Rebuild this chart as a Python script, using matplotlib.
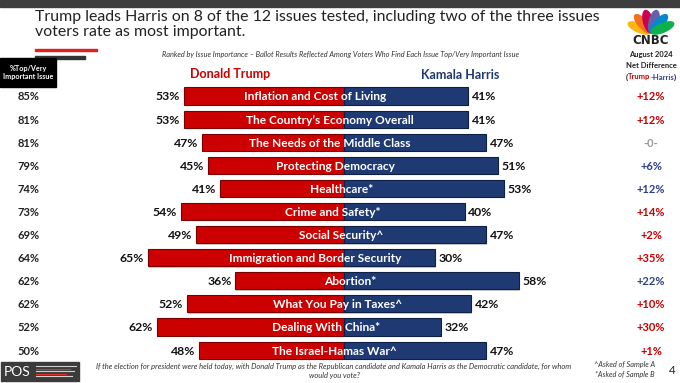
import matplotlib
matplotlib.use("Agg")
import matplotlib.pyplot as plt
from matplotlib.patches import Ellipse, Rectangle
import numpy as np

plt.rcParams['font.family'] = ['Lato', 'DejaVu Sans']

issues = ["Inflation and Cost of Living", "The Country\u2019s Economy Overall",
          "The Needs of the Middle Class", "Protecting Democracy", "Healthcare*",
          "Crime and Safety*", "Social Security^", "Immigration and Border Security",
          "Abortion*", "What You Pay in Taxes^", "Dealing With China*",
          "The Israel-Hamas War^"]
importance = [85, 81, 81, 79, 74, 73, 69, 64, 62, 62, 52, 50]
trump = [53, 53, 47, 45, 41, 54, 49, 65, 36, 52, 62, 48]
harris = [41, 41, 47, 51, 53, 40, 47, 30, 58, 42, 32, 47]

# where each issue name sits inside its bar (percent from the centre line)
label_shift = [-9.6, -4.8, -4.6, -3.0, -0.8, -3.7, -1.0, -9.4, 1.9, -2.0, -6.1, -3.3]

RED = "#cc0000"
NAVY = "#1f3a73"
BLUE_TXT = "#2e3f8f"
W, H = 680, 383

fig = plt.figure(figsize=(6.8, 3.83), dpi=100)

def fx(px):
    return px / W

def fy(py):
    return 1 - py / H

# main axes covers whole figure; x in percent, y in rows
ax = fig.add_axes([0, 0, 1, 1])
scale = 3.02  # px per percent
cx = 344
y0, dy = 96, 23.1
ax.set_xlim(-cx / scale, (W - cx) / scale)
ax.set_ylim((H - y0) / dy, -y0 / dy)
ax.axis("off")

rows = np.arange(len(issues))
t = np.array(trump)
h = np.array(harris)
bh = 0.74

# shadows
ax.barh(rows + 0.06, -t, left=0.3, height=bh, color="#9a9a9a", alpha=0.5, zorder=1)
ax.barh(rows + 0.06, h, left=0.3, height=bh, color="#9a9a9a", alpha=0.5, zorder=1)
ax.barh(rows, -t, height=bh, color=RED, edgecolor="#7a0000", linewidth=0.8, zorder=2)
ax.barh(rows, h, height=bh, color=NAVY, edgecolor="#0d1f45", linewidth=0.8, zorder=2)

for i in rows:
    ax.text(label_shift[i], i + 0.04, issues[i], ha="center", va="center", color="white",
            fontsize=8.6, fontweight="bold", zorder=3)
    ax.text(-t[i] - 1.2, i + 0.04, f"{t[i]}%", ha="right", va="center",
            fontsize=8.8, fontweight="bold", color="#111111")
    ax.text(h[i] + 1.2, i + 0.04, f"{h[i]}%", ha="left", va="center",
            fontsize=8.8, fontweight="bold", color="#111111")

tr = ax.get_yaxis_transform()
for i in rows:
    ax.text(fx(28.5), i + 0.04, f"{importance[i]}%", transform=tr, ha="center",
            va="center", fontsize=8, fontweight="bold", color="#222222")
    d = t[i] - h[i]
    if d > 0:
        lab, col = f"+{d}%", RED
    elif d < 0:
        lab, col = f"+{-d}%", BLUE_TXT
    else:
        lab, col = "-0-", "#999999"
    ax.text(fx(651), i + 0.04, lab, transform=tr, ha="center", va="center",
            fontsize=8, fontweight="bold", color=col)

# top band and title
fig.patches.append(Rectangle((0, fy(7)), 1, fy(0) - fy(7), transform=fig.transFigure,
                             color="#3d3d3d", zorder=0))
fig.text(fx(35), fy(10), "Trump leads Harris on 8 of the 12 issues tested, including two of the three issues\nvoters rate as most important.",
         ha="left", va="top", fontsize=11.4, color="#222222", linespacing=1.12)
fig.patches.append(Rectangle((fx(35), fy(51)), fx(62), 2.5 / H, transform=fig.transFigure,
                             color="#e02020"))
fig.patches.append(Rectangle((fx(35), fy(58.5)), fx(50), 2.5 / H, transform=fig.transFigure,
                             color="#333333"))
fig.text(fx(340), fy(55), "Ranked by Issue Importance \u2013 Ballot Results Reflected Among Voters Who Find Each Issue Top/Very Important Issue",
         ha="center", va="center", fontsize=5.3, style="italic", color="#333333")

# left header box
fig.patches.append(Rectangle((0, fy(87)), fx(56), 29 / H, transform=fig.transFigure,
                             color="black"))
fig.text(fx(28), fy(72.5), "%Top/Very\nImportant Issue", ha="center", va="center",
         fontsize=5.2, fontweight="bold", color="white", linespacing=1.3)

# candidate headers
fig.text(fx(230), fy(74), "Donald Trump", ha="center", va="center", fontsize=9,
         fontweight="bold", color=RED)
fig.text(fx(460), fy(75), "Kamala Harris", ha="center", va="center", fontsize=9,
         fontweight="bold", color=NAVY)

# right header
fig.text(fx(651), fy(55), "August 2024", ha="center", va="center", fontsize=5.5,
         fontweight="bold", color="#222222")
fig.text(fx(651), fy(66), "Net Difference", ha="center", va="center", fontsize=5.5,
         fontweight="bold", color="#222222")

# "(Trump-Harris)" in three colours: place pieces by measured prefix widths
parts = [("(", "#222222"), ("Trump", RED), ("-Harris", BLUE_TXT), (")", "#222222")]
renderer = fig.canvas.get_renderer()
def text_w(s):
    tmp = fig.text(0, 0, s, fontsize=5.5, fontweight="bold")
    w = tmp.get_window_extent(renderer).width / W
    tmp.remove()
    return w
full = "".join(s for s, _ in parts)
x_start = fx(651) - text_w(full) / 2
prefix = ""
for s, c in parts:
    off = text_w(prefix) if prefix else 0
    fig.text(x_start + off, fy(77), s, ha="left", va="center", fontsize=5.5,
             fontweight="bold", color=c)
    prefix += s

# CNBC logo
lax = fig.add_axes([fx(624), fy(36), fx(54), 28 / H])
lax.set_xlim(-1.6, 1.6)
lax.set_ylim(-0.2, 1.6)
lax.axis("off")
petals = ["#fcb711", "#f37021", "#cc004c", "#6460aa", "#0089d0", "#0db14b"]
angles = np.linspace(155, 25, 6)
for a, c in zip(angles, petals):
    r = np.deg2rad(a)
    lax.add_patch(Ellipse((0.75 * np.cos(r), 0.75 * np.sin(r)), 0.55, 1.45,
                          angle=a - 90, color=c))
fig.text(fx(651), fy(41), "CNBC", ha="center", va="center", fontsize=8.5,
         fontweight="heavy", color="#222222", family="DejaVu Sans")

# bottom: POS logo
fig.patches.append(Rectangle((fx(1), fy(381)), fx(78), 19 / H, transform=fig.transFigure,
                             color="#3b3b3b"))
fig.text(fx(4), fy(372), "POS", ha="left", va="center", fontsize=10, color="white")
for k, (ln, c) in enumerate([(40, "#d0d0d0"), (34, "#e03030"), (38, "#d0d0d0"),
                             (30, "#e03030"), (36, "#d0d0d0")]):
    yy = 366 + k * 2.5
    fig.add_artist(plt.Line2D([fx(36), fx(36 + ln)], [fy(yy), fy(yy)], color=c, lw=0.8))

fig.text(fx(334), fy(371), "If the election for president were held today, with Donald Trump as the Republican candidate and Kamala Harris as the Democratic candidate, for whom\nwould you vote?",
         ha="center", va="center", fontsize=5.4, style="italic", color="#333333",
         linespacing=1.3)
fig.text(fx(655), fy(364), "^Asked of Sample A", ha="right", va="center", fontsize=5.3,
         style="italic", color="#333333")
fig.text(fx(655), fy(374), "*Asked of Sample B", ha="right", va="center", fontsize=5.3,
         style="italic", color="#333333")
fig.text(fx(672), fy(371), "4", ha="center", va="center", fontsize=8.5, color="#222222")

fig.savefig("out.png", dpi=100)
